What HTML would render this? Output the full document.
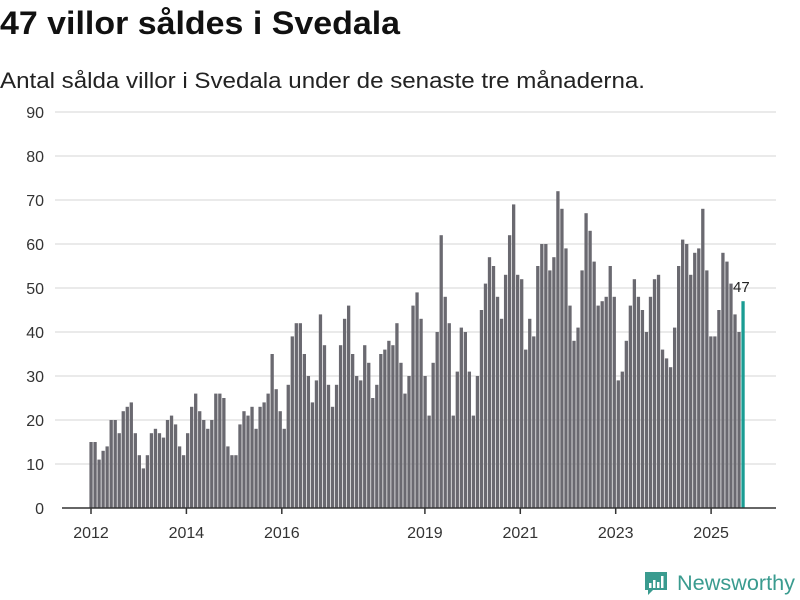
<!DOCTYPE html>
<html><head><meta charset="utf-8"><style>
body{margin:0;width:800px;height:600px;background:#fff;overflow:hidden;font-family:"Liberation Sans","DejaVu Sans",sans-serif}
svg{position:absolute;left:0;top:0}
</style></head><body>
<svg id="c" width="800" height="600">
<text x="0" y="34" font-size="32" font-weight="bold" fill="#111" textLength="400" lengthAdjust="spacingAndGlyphs">47 villor såldes i Svedala</text>
<text x="0" y="88" font-size="22" fill="#222" textLength="645" lengthAdjust="spacingAndGlyphs">Antal sålda villor i Svedala under de senaste tre månaderna.</text>
<g id="grid"></g><g id="bars"></g><g id="xaxis"></g>
<g>
<path d="M645 572 h22 v18 h-14 l-5 5 v-5 h-3 z" fill="#3a9b8f"/>
<rect x="649" y="583" width="2.5" height="5" fill="#fff"/><rect x="653" y="580" width="2.5" height="8" fill="#fff"/><rect x="657" y="582" width="2.5" height="6" fill="#fff"/><rect x="661" y="576" width="2.5" height="12" fill="#fff"/>
<text x="677" y="590" font-size="21" fill="#3a9b8f" textLength="118" lengthAdjust="spacingAndGlyphs">Newsworthy</text>
</g>
</svg>
<script>
const values=[15,15,11,13,14,20,20,17,22,23,24,17,12,9,12,17,18,17,16,20,21,19,14,12,17,23,26,22,20,18,20,26,26,25,14,12,12,19,22,21,23,18,23,24,26,35,27,22,
18,28,39,42,42,35,30,24,29,44,37,28,23,28,37,43,46,35,30,29,37,33,25,28,35,36,38,37,
42,33,26,30,46,49,43,30,21,33,40,62,48,42,21,31,41,40,31,21,30,45,51,57,55,48,43,53,62,
69,53,52,36,43,39,55,60,60,54,57,72,68,59,46,38,41,54,67,63,56,46,47,48,55,48,29,31,38,
46,52,48,45,40,48,52,53,36,34,32,41,55,61,60,53,58,59,68,54,39,39,45,58,56,51,44,40,47];
const yTicks=[0,10,20,30,40,50,60,70,80,90];
const xYears=[2012,2014,2016,2019,2021,2023,2025];
const NS='http://www.w3.org/2000/svg';
const y0=508,yTop=112,yMax=90;
const y=v=>y0-(v/yMax)*(y0-yTop);
const xStart=91,xEnd=743;
const step=(xEnd-xStart)/(values.length-1);
const xi=i=>xStart+i*step;
const xYear=yr=>91+(yr-2012)*47.7;
function mk(t,a){const e=document.createElementNS(NS,t);for(const k in a)e.setAttribute(k,a[k]);return e;}
const grid=document.getElementById('grid');
yTicks.forEach(t=>{
  if(t>0){const l=mk('line',{x1:55,x2:776,y1:y(t),y2:y(t),stroke:'#dedede','stroke-width':1.3});
  
  
  grid.appendChild(l);}
  const tx=mk('text',{x:44,y:y(t)+6,'text-anchor':'end','font-size':16,fill:'#333'});
  tx.textContent=t;
  
  
  grid.appendChild(tx);
});
const bars=document.getElementById('bars');
values.forEach((v,i)=>{
  const last=i===values.length-1;
  const r=mk('rect',{x:xi(i)-1.6,y:y(v),width:3.3,height:y0-y(v),fill:last?'#1a9c93':'#6a6970'});
  
  
  bars.appendChild(r);
});
const lab=mk('text',{x:xi(values.length-1)-10,y:y(values[values.length-1])-9,'font-size':15,fill:'#222'});
lab.textContent=values[values.length-1];


bars.appendChild(lab);
const xa=document.getElementById('xaxis');
const ax=mk('line',{x1:62,x2:776,y1:y0,y2:y0,stroke:'#333','stroke-width':1.5});


xa.appendChild(ax);
xYears.forEach(yr=>{
  const x=xYear(yr);
  const tk=mk('line',{x1:x,x2:x,y1:y0,y2:y0+6,stroke:'#333','stroke-width':1.5});
  
  
  xa.appendChild(tk);
  const t=mk('text',{x:x,y:538,'text-anchor':'middle','font-size':16,fill:'#333'});
  t.textContent=yr;
  
  
  xa.appendChild(t);
});
</script>
</body></html>
